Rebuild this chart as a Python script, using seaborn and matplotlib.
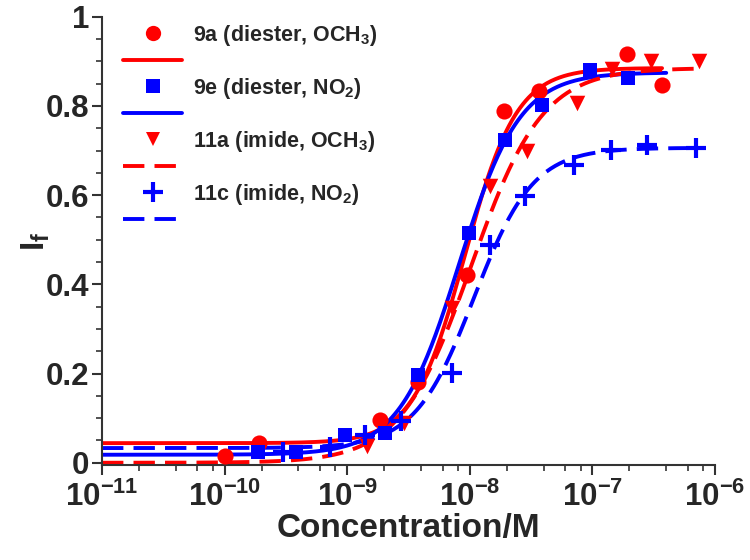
import numpy as np
import pandas as pd
import matplotlib
matplotlib.use("Agg")
import matplotlib.pyplot as plt
import seaborn as sns
from matplotlib.lines import Line2D
from matplotlib.ticker import LogLocator, MultipleLocator, NullFormatter, FixedLocator, FixedFormatter

# ---------------- data ----------------
x_9a = [1.0e-10, 1.9e-10, 1.85e-9, 3.8e-9, 9.5e-9, 1.9e-8, 3.7e-8, 1.9e-7, 3.7e-7]
y_9a = [0.016, 0.044, 0.096, 0.18, 0.42, 0.789, 0.833, 0.917, 0.848]

x_9e = [1.87e-10, 3.8e-10, 9.6e-10, 2.05e-9, 3.8e-9, 9.8e-9, 1.95e-8, 3.9e-8, 9.6e-8, 1.95e-7]
y_9e = [0.025, 0.025, 0.063, 0.067, 0.197, 0.515, 0.724, 0.803, 0.88, 0.863]

x_11a = [1.45e-9, 2.9e-9, 7.1e-9, 1.45e-8, 2.93e-8, 7.5e-8, 1.45e-7, 3.0e-7, 7.4e-7]
y_11a = [0.037, 0.09, 0.347, 0.62, 0.698, 0.806, 0.883, 0.90, 0.90]

x_11c = [3.0e-10, 7.2e-10, 1.4e-9, 2.75e-9, 7.1e-9, 1.47e-8, 2.84e-8, 7.1e-8, 1.41e-7, 2.8e-7, 7.0e-7]
y_11c = [0.025, 0.036, 0.063, 0.093, 0.201, 0.489, 0.597, 0.668, 0.702, 0.713, 0.706]

# fitted dose-response (Hill) parameters
series_names = ["9a (diester, OCH$_3$)", "9e (diester, NO$_2$)",
                "11a (imide, OCH$_3$)", "11c (imide, NO$_2$)"]
fit_bottom = [0.044, 0.018, 0.000, 0.033]
fit_top    = [0.885, 0.875, 0.885, 0.706]
fit_ec50   = [9.1e-9, 8.2e-9, 1.03e-8, 1.08e-8]
fit_hill   = [2.05, 1.76, 1.5, 1.8]
fit_xmax   = [3.7e-7, 4.0e-7, 7.4e-7, 7.4e-7]

x_ticks = [1e-11, 1e-10, 1e-9, 1e-8, 1e-7, 1e-6]
x_tick_labels = [r"$10^{-11}$", r"$10^{-10}$", r"$10^{-9}$", r"$10^{-8}$", r"$10^{-7}$", r"$10^{-6}$"]
y_ticks = [0, 0.2, 0.4, 0.6, 0.8, 1.0]
y_tick_labels = ["0", "0.2", "0.4", "0.6", "0.8", "1"]

colors = ["#FF0000", "#0000FF", "#FF0000", "#0000FF"]
markers = ["o", "s", "v", "+"]
dashed = [False, False, True, True]

# ---------------- style ----------------
sns.set_style("ticks")
plt.rcParams["font.family"] = ["Liberation Sans", "DejaVu Sans"]
plt.rcParams["font.weight"] = "bold"
plt.rcParams["mathtext.fontset"] = "custom"
for k in ["rm", "it", "bf", "sf"]:
    plt.rcParams[f"mathtext.{k}"] = "Liberation Sans:bold"

fig = plt.figure(figsize=(7.5, 5.6), dpi=100)
ax = fig.add_axes([102 / 750, 1 - 465 / 560, (715 - 102) / 750, (465 - 16.7) / 560])

xs_pts = [x_9a, x_9e, x_11a, x_11c]
ys_pts = [y_9a, y_9e, y_11a, y_11c]

# fitted curves
for i in range(4):
    xc = np.logspace(-11, np.log10(fit_xmax[i]), 400)
    yc = fit_bottom[i] + (fit_top[i] - fit_bottom[i]) / (1 + (fit_ec50[i] / xc) ** fit_hill[i])
    dfc = pd.DataFrame({"x": xc, "y": yc})
    sns.lineplot(data=dfc, x="x", y="y", ax=ax, color=colors[i], lw=2.8,
                 dashes=False, estimator=None, sort=False)
    if dashed[i]:
        ax.lines[-1].set_dashes([5.5, 2.6])

# data points
for i in range(4):
    dfp = pd.DataFrame({"x": xs_pts[i], "y": ys_pts[i]})
    if markers[i] == "+":
        sns.scatterplot(data=dfp, x="x", y="y", ax=ax, color=colors[i], marker="+",
                        s=210, linewidth=3.0, zorder=5)
    else:
        size = {"o": 135, "s": 115, "v": 125}[markers[i]]
        sns.scatterplot(data=dfp, x="x", y="y", ax=ax, color=colors[i], marker=markers[i],
                        s=size, linewidth=0, zorder=5)

ax.set_xscale("log")
ax.set_xlim(1e-11, 1e-6)
ax.set_ylim(-0.005, 1.0)

ax.xaxis.set_major_locator(FixedLocator(x_ticks))
ax.xaxis.set_major_formatter(FixedFormatter(x_tick_labels))
ax.xaxis.set_minor_locator(LogLocator(base=10, subs=[2, 4, 6, 8], numticks=20))
ax.xaxis.set_minor_formatter(NullFormatter())
ax.yaxis.set_major_locator(FixedLocator(y_ticks))
ax.yaxis.set_major_formatter(FixedFormatter(y_tick_labels))
ax.yaxis.set_minor_locator(MultipleLocator(0.05))

ax.tick_params(axis="both", which="major", direction="out", length=7, width=1.5,
               color="#333333", labelsize=22.5)
ax.tick_params(axis="y", which="major", pad=2)
ax.tick_params(axis="x", which="major", pad=5)
ax.tick_params(axis="both", which="minor", direction="out", length=4, width=1.2, color="#333333")
for lab in ax.get_xticklabels() + ax.get_yticklabels():
    lab.set_fontweight("bold")
for s in ["left", "bottom"]:
    ax.spines[s].set_linewidth(1.5)
    ax.spines[s].set_color("#333333")
sns.despine(ax=ax)

ax.set_xlabel("Concentration/M", fontsize=24, fontweight="bold")
ax.set_ylabel(r"I$_{f}$", fontsize=24, fontweight="bold")
ax.xaxis.set_label_coords(0.5, -0.107)
ax.yaxis.set_label_coords(-0.082, 0.5)

# legend: marker row with label, line row below
handles, labels = [], []
for i in range(4):
    if markers[i] == "+":
        hm = Line2D([], [], color=colors[i], marker="+", linestyle="none", markersize=15, markeredgewidth=3)
    else:
        hm = Line2D([], [], color=colors[i], marker=markers[i], linestyle="none",
                    markersize={"o": 11, "s": 10, "v": 10.5}[markers[i]], markeredgewidth=0)
    hl = Line2D([], [], color=colors[i], lw=2.8, linestyle="-")
    if dashed[i]:
        hl.set_dashes([5.5, 2.6])
    handles += [hm, hl]
    labels += [series_names[i], " "]

leg = ax.legend(handles, labels, loc="upper left", bbox_to_anchor=(123 / 750, 1 - 23 / 560),
                bbox_transform=fig.transFigure, frameon=False, fontsize=15.5,
                handlelength=2.75, handletextpad=0.5, labelspacing=0.16,
                borderpad=0, borderaxespad=0)
for t in leg.get_texts():
    t.set_fontweight("bold")

fig.savefig("out.png", dpi=100)
